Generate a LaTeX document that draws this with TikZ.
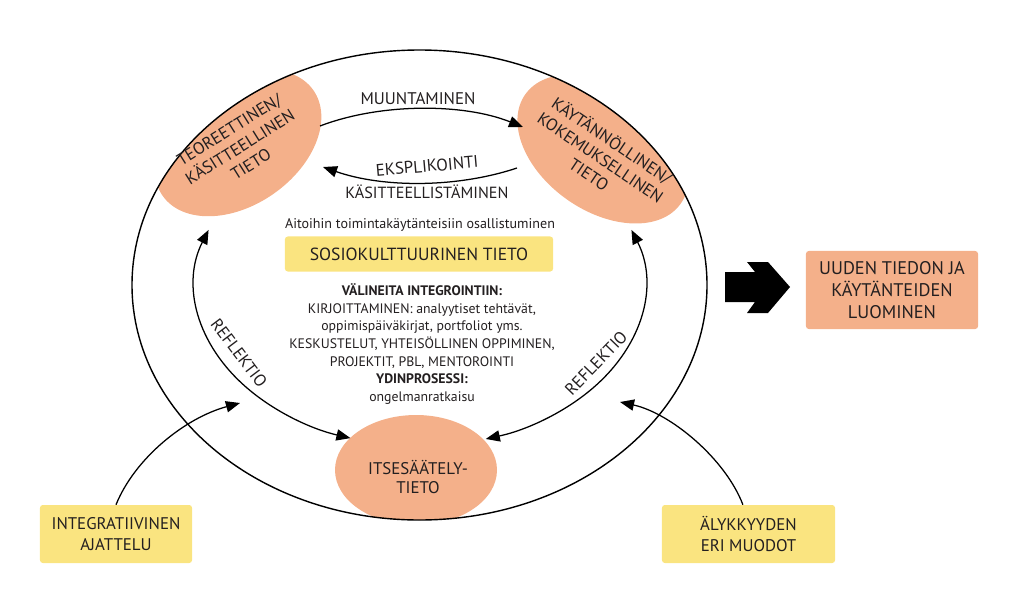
\documentclass[tikz,border=0pt]{standalone}
\usepackage{fontspec}
\setmainfont{PT Sans}
\usepackage{xcolor}
\usetikzlibrary{positioning,calc,arrows.meta}

\definecolor{blobfill}{RGB}{244,176,138}
\definecolor{boxfill}{RGB}{250,228,128}
\definecolor{txt}{RGB}{35,31,32}

\tikzset{
  blobtext/.style={align=center, font=\fontsize{12}{14.5}\selectfont, text=txt},
  arrowlabel/.style={font=\fontsize{12}{14}\selectfont, text=txt},
  flow/.style={line width=0.9pt, -{Triangle[length=10pt,width=8pt]}},
  twoway/.style={line width=0.9pt, {Triangle[length=10pt,width=8pt]}-{Triangle[length=10pt,width=8pt]}},
  ybox/.style={fill=boxfill, rounded corners=2pt, align=center, font=\fontsize{12}{14.5}\selectfont, text=txt},
}

\begin{document}
\begin{tikzpicture}[x=0.025cm, y=0.025cm]
    \useasboundingbox (0,0) rectangle (1023,608);

    % orange fields, cut by the big circle
    \begin{scope}
        \clip (419.5,323) ellipse [x radius=287.5, y radius=235];
        \fill[blobfill, rotate around={35:(238,465)}] (238,465) ellipse [x radius=92, y radius=62];
        \fill[blobfill, rotate around={-35:(603,459)}] (603,459) ellipse [x radius=95, y radius=62];
        \fill[blobfill] (416,138) ellipse [x radius=81, y radius=55];
    \end{scope}
    \draw[line width=1pt] (419.5,323) ellipse [x radius=287.5, y radius=235];

    \node[blobtext, rotate=32] (teo) at (240,461) {TEOREETTINEN/\\KÄSITTEELLINEN\\TIETO};
    \node[blobtext, rotate=-34] (kay) at (601,451) {KÄYTÄNNÖLLINEN/\\KOKEMUKSELLINEN\\TIETO};
    \node[blobtext, font=\fontsize{12}{13.5}\selectfont] (itse) at (418,131) {ITSESÄÄTELY-\\TIETO};

    % upper arrows
    \coordinate (teo-out) at (320,482);
    \coordinate (kay-in) at (523,481);
    \coordinate (kay-out) at (517,440);
    \coordinate (teo-in) at (323,441);
    \draw[flow] (teo-out) .. controls (380,505) and (463,505) .. (kay-in);
    \draw[flow] (kay-out) .. controls (457,420) and (383,420) .. (teo-in);
    \node[arrowlabel] (muu) at (418,509) {MUUNTAMINEN};
    \node[arrowlabel, rotate=5] (eks) at (427,442) {EKSPLIKOINTI};
    \node[arrowlabel, font=\fontsize{11.5}{13}\selectfont] (kas) at (427,416) {KÄSITTEELLISTÄMINEN};

    % reflektio arcs
    \coordinate (c) at (420,323);
    \path (c) ++(160:225 and 161) coordinate (refl-lt);
    \path (c) ++(20:225 and 161) coordinate (refl-rt);
    \draw[twoway] (refl-lt) arc[start angle=160, end angle=252, x radius=225, y radius=161];
    \draw[twoway] (refl-rt) arc[start angle=20, end angle=-73, x radius=225, y radius=161];
    \node[arrowlabel, rotate=-53] (refl-l) at (239,255) {REFLEKTIO};
    \node[arrowlabel, rotate=46] (refl-r) at (596,245) {REFLEKTIO};

    % middle
    \node[font=\fontsize{10}{12.6}\selectfont, text=txt] (aito) at (420,383) {Aitoihin toimintakäytänteisiin osallistuminen};
    \node[ybox, minimum width=6.7cm, minimum height=0.875cm, font=\fontsize{12.5}{14}\selectfont] (sosio) at (419,354) {SOSIOKULTTUURINEN TIETO};
    \node[align=center, font=\fontsize{9.8}{12.6}\selectfont, text=txt] (keinot) at (422,264) {\textbf{VÄLINEITA INTEGROINTIIN:}\\KIRJOITTAMINEN: analyytiset tehtävät,\\oppimispäiväkirjat, portfoliot yms.\\KESKUSTELUT, YHTEISÖLLINEN OPPIMINEN,\\PROJEKTIT, PBL, MENTOROINTI\\\textbf{YDINPROSESSI:}\\ongelmanratkaisu};

    % boxes outside
    \node[ybox, minimum width=3.8cm, minimum height=1.45cm] (integ) at (116,74) {INTEGRATIIVINEN\\AJATTELU};
    \node[ybox, minimum width=4.325cm, minimum height=1.45cm] (alyk) at (748.5,74) {ÄLYKKYYDEN\\ERI MUODOT};
    \node[ybox, fill=blobfill, minimum width=4.3cm, minimum height=1.95cm, font=\fontsize{13}{15.5}\selectfont] (uusi) at (892,318) {UUDEN TIEDON JA\\KÄYTÄNTEIDEN\\LUOMINEN};

    \coordinate (integ-tip) at (240,205);
    \coordinate (alyk-tip) at (620,206);
    \draw[flow] (integ.north) .. controls (135,150) and (185,190) .. (integ-tip);
    \draw[flow] ([xshift=-0.14cm]alyk.north) .. controls (725,150) and (670,195) .. (alyk-tip);

    % big arrow
    \fill[black] (725,336) -- (755,336) -- (747,346) -- (768,346) -- (790,321) -- (768,295) -- (747,295) -- (755,306) -- (725,306) -- cycle;
\end{tikzpicture}
\end{document}
